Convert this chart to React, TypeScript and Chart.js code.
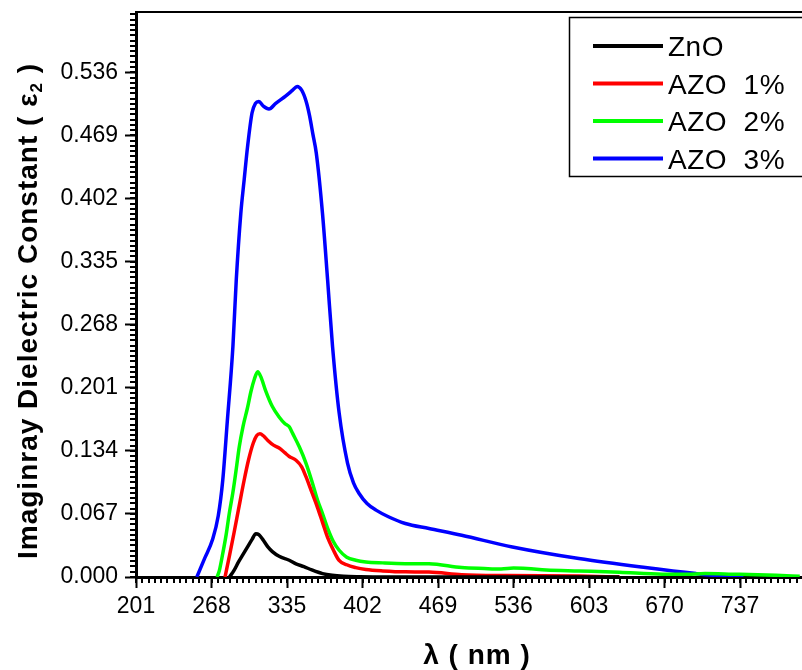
import React, { useEffect, useRef } from 'react';
import { Chart, registerables } from 'chart.js';

Chart.register(...registerables);

// ---- Data ----
const seriesLabels = ['ZnO', 'AZO  1%', 'AZO  2%', 'AZO  3%'];
const seriesColors = ['#000000', '#ff0000', '#00ff00', '#0000ff'];

const xTickValues = [201, 268, 335, 402, 469, 536, 603, 670, 737];
const yTickValues = [0, 0.067, 0.134, 0.201, 0.268, 0.335, 0.402, 0.469, 0.536];

const znoX = [284, 288, 292, 296, 300, 304, 307.4, 310, 314, 318, 322, 328, 337, 343, 350, 357, 366.5, 375, 385, 400, 420, 450, 500, 560, 630];
const znoY = [0, 0.007, 0.016, 0.024, 0.032, 0.040, 0.046, 0.045, 0.039, 0.032, 0.027, 0.022, 0.0178, 0.014, 0.011, 0.0075, 0.0036, 0.0018, 0.0008, 0.0003, 0, 0, 0, 0, 0];

const azo1X = [280, 284, 288, 292, 297, 301, 305, 308, 311, 314, 318, 323, 328, 333, 337, 343, 348, 352, 357, 362, 366.5, 371, 376, 381, 388, 396, 405, 420, 440, 461, 490, 530, 594, 630];
const azo1Y = [0, 0.023, 0.047, 0.072, 0.103, 0.125, 0.142, 0.150, 0.152, 0.150, 0.145, 0.140, 0.137, 0.132, 0.128, 0.124, 0.117, 0.106, 0.090, 0.074, 0.058, 0.042, 0.029, 0.018, 0.013, 0.010, 0.008, 0.0065, 0.0055, 0.0053, 0.0025, 0.0015, 0.001, 0];

const azo2X = [273, 275, 278, 281, 283.7, 287, 290, 292.6, 296, 300, 303, 306, 309, 312, 316, 322, 328, 333, 337, 340, 346, 351.8, 357, 362, 366.5, 371, 376, 381.3, 388, 396, 405, 420, 440, 461, 490, 510, 525, 536, 548, 565, 594, 630, 668, 690, 706, 730, 769, 790];
const azo2Y = [0, 0.007, 0.025, 0.045, 0.067, 0.090, 0.115, 0.138, 0.160, 0.180, 0.197, 0.210, 0.218, 0.212, 0.198, 0.181, 0.170, 0.163, 0.1595, 0.1525, 0.138, 0.121, 0.102, 0.082, 0.0674, 0.052, 0.038, 0.0284, 0.021, 0.0178, 0.016, 0.015, 0.0142, 0.014, 0.010, 0.009, 0.0085, 0.0095, 0.009, 0.0075, 0.0064, 0.005, 0.003, 0.003, 0.0036, 0.003, 0.0018, 0.0008];

const azo3X = [255, 262, 269, 274, 278, 282, 287, 290, 294, 297, 300, 304, 307, 310, 314, 319, 325, 334, 340, 344, 348, 352, 355, 358, 361, 366.5, 371, 375.4, 381.3, 388.7, 394, 399, 406, 414, 425, 440, 461, 490, 535, 594, 653, 698, 721, 740];
const azo3Y = [0, 0.02, 0.040, 0.065, 0.103, 0.165, 0.245, 0.316, 0.386, 0.422, 0.457, 0.493, 0.503, 0.505, 0.500, 0.497, 0.503, 0.511, 0.517, 0.521, 0.517, 0.505, 0.490, 0.470, 0.450, 0.386, 0.316, 0.245, 0.174, 0.121, 0.100, 0.0887, 0.078, 0.071, 0.064, 0.0568, 0.0515, 0.0443, 0.0319, 0.0196, 0.010, 0.0036, 0.001, 0];

const seriesX = [znoX, azo1X, azo2X, azo3X];
const seriesY = [znoY, azo1Y, azo2Y, azo3Y];

const X_MIN = 201;
const X_MAX = 792;
const Y_MIN = 0;
const Y_MAX = 0.6;
const MINOR_DIVS = 12;

const FONT = "'Liberation Sans', Arial, sans-serif";

const decorPlugin = {
  id: 'decor',
  afterDraw(chart: any) {
    const ctx = chart.ctx;
    const area = chart.chartArea;
    const xs = chart.scales.x;
    const ys = chart.scales.y;
    ctx.save();
    ctx.strokeStyle = '#000';
    ctx.lineWidth = 2;
    // minor ticks x
    const xStep = xTickValues[1] - xTickValues[0];
    ctx.beginPath();
    for (let v = xTickValues[0]; v <= X_MAX + 1e-9; v += xStep / MINOR_DIVS) {
      const px = Math.round(xs.getPixelForValue(v));
      if (px > area.right + 1) break;
      ctx.moveTo(px, area.bottom);
      ctx.lineTo(px, area.bottom + 6);
    }
    // minor ticks y
    const yStep = yTickValues[1] - yTickValues[0];
    for (let v = yTickValues[0]; v <= Y_MAX + 1e-9; v += yStep / MINOR_DIVS) {
      const py = Math.round(ys.getPixelForValue(v));
      if (py < area.top) break;
      ctx.moveTo(area.left, py);
      ctx.lineTo(area.left - 6, py);
    }
    ctx.stroke();
    // top frame line
    ctx.lineWidth = 2;
    ctx.beginPath();
    ctx.moveTo(area.left, area.top);
    ctx.lineTo(chart.width, area.top);
    ctx.stroke();

    // legend box
    const lx = 569, ly = 17, lw = 300, lh = 159;
    ctx.fillStyle = '#fff';
    ctx.fillRect(lx, ly, lw, lh);
    ctx.lineWidth = 1.5;
    ctx.strokeRect(lx + 0.5, ly + 0.5, lw, lh);
    ctx.font = `28px ${FONT}`;
    (ctx as any).letterSpacing = '0.5px';
    ctx.textBaseline = 'alphabetic';
    ctx.textAlign = 'left';
    chart.data.datasets.forEach((ds: any, i: number) => {
      const y = 46 + i * 37.5;
      ctx.strokeStyle = ds.borderColor;
      ctx.lineWidth = 4;
      ctx.beginPath();
      ctx.moveTo(593, y);
      ctx.lineTo(663, y);
      ctx.stroke();
      ctx.fillStyle = '#000';
      ctx.fillText(ds.label, 668, y + 10);
    });

    // x title
    ctx.fillStyle = '#000';
    ctx.font = `bold 28px ${FONT}`;
    (ctx as any).letterSpacing = '1px';
    ctx.textAlign = 'center';
    ctx.textBaseline = 'middle';
    ctx.fillText('λ ( nm )', 477, 656);

    // y title with subscript
    ctx.save();
    ctx.translate(27, 311);
    ctx.rotate(-Math.PI / 2);
    const main = 'Imaginray Dielectric Constant ( ε';
    const sub = '2';
    const tail = ' )';
    const mainFont = `bold 28px ${FONT}`;
    const subFont = `bold 17px ${FONT}`;
    (ctx as any).letterSpacing = '1px';
    ctx.font = mainFont;
    const wMain = ctx.measureText(main).width;
    const wTail = ctx.measureText(tail).width;
    ctx.font = subFont;
    const wSub = ctx.measureText(sub).width;
    const total = wMain + wSub + wTail;
    let cx = -total / 2;
    ctx.textAlign = 'left';
    ctx.textBaseline = 'alphabetic';
    ctx.font = mainFont;
    ctx.fillText(main, cx, 10);
    cx += wMain;
    ctx.font = subFont;
    ctx.fillText(sub, cx, 15);
    cx += wSub;
    ctx.font = mainFont;
    ctx.fillText(tail, cx, 10);
    ctx.restore();

    ctx.restore();
  },
};

export default function App() {
  const canvasRef = useRef<HTMLCanvasElement | null>(null);

  useEffect(() => {
    if (!canvasRef.current) return;
    const datasets = seriesLabels.map((label, i) => ({
      label,
      data: seriesX[i].map((x, j) => ({ x, y: seriesY[i][j] })),
      borderColor: seriesColors[i],
      backgroundColor: seriesColors[i],
      borderWidth: 3.5,
      pointRadius: 0,
      fill: false,
      cubicInterpolationMode: 'monotone' as const,
    }));

    const chart = new Chart(canvasRef.current, {
      type: 'line',
      data: { datasets },
      options: {
        responsive: false,
        animation: false,
        devicePixelRatio: 1,
        layout: { padding: { top: 12, right: 0, left: 0, bottom: 0 } },
        plugins: {
          legend: { display: false },
          tooltip: { enabled: false },
        },
        scales: {
          x: {
            type: 'linear',
            min: X_MIN,
            max: X_MAX,
            afterBuildTicks: (s: any) => {
              s.ticks = xTickValues.map((v) => ({ value: v }));
            },
            afterFit: (s: any) => {
              s.height = 93;
              s.paddingLeft = 0;
              s.paddingRight = 0;
            },
            ticks: {
              autoSkip: false,
              maxRotation: 0,
              color: '#000',
              padding: 5,
              font: { family: FONT, size: 23 },
              callback: (v: any) => String(v),
            },
            grid: {
              drawOnChartArea: false,
              drawTicks: true,
              tickLength: 11,
              tickWidth: 2,
              color: '#000',
            },
            border: { display: true, color: '#000', width: 3 },
          },
          y: {
            type: 'linear',
            min: Y_MIN,
            max: Y_MAX,
            afterBuildTicks: (s: any) => {
              s.ticks = yTickValues.map((v) => ({ value: v }));
            },
            afterFit: (s: any) => {
              s.width = 136;
              s.paddingTop = 0;
              s.paddingBottom = 0;
            },
            ticks: {
              autoSkip: false,
              color: '#000',
              padding: 7,
              font: { family: FONT, size: 23 },
              callback: (v: any) => Number(v).toFixed(3),
            },
            grid: {
              drawOnChartArea: false,
              drawTicks: true,
              tickLength: 11,
              tickWidth: 2,
              color: '#000',
            },
            border: { display: true, color: '#000', width: 3 },
          },
        },
      },
      plugins: [decorPlugin],
    });
    return () => chart.destroy();
  }, []);

  return (
    <div style={{ position: 'fixed', left: 0, top: 0, width: 802, height: 670, background: '#fff', overflow: 'hidden' }}>
      <canvas ref={canvasRef} width={802} height={670} style={{ display: 'block' }} />
    </div>
  );
}
